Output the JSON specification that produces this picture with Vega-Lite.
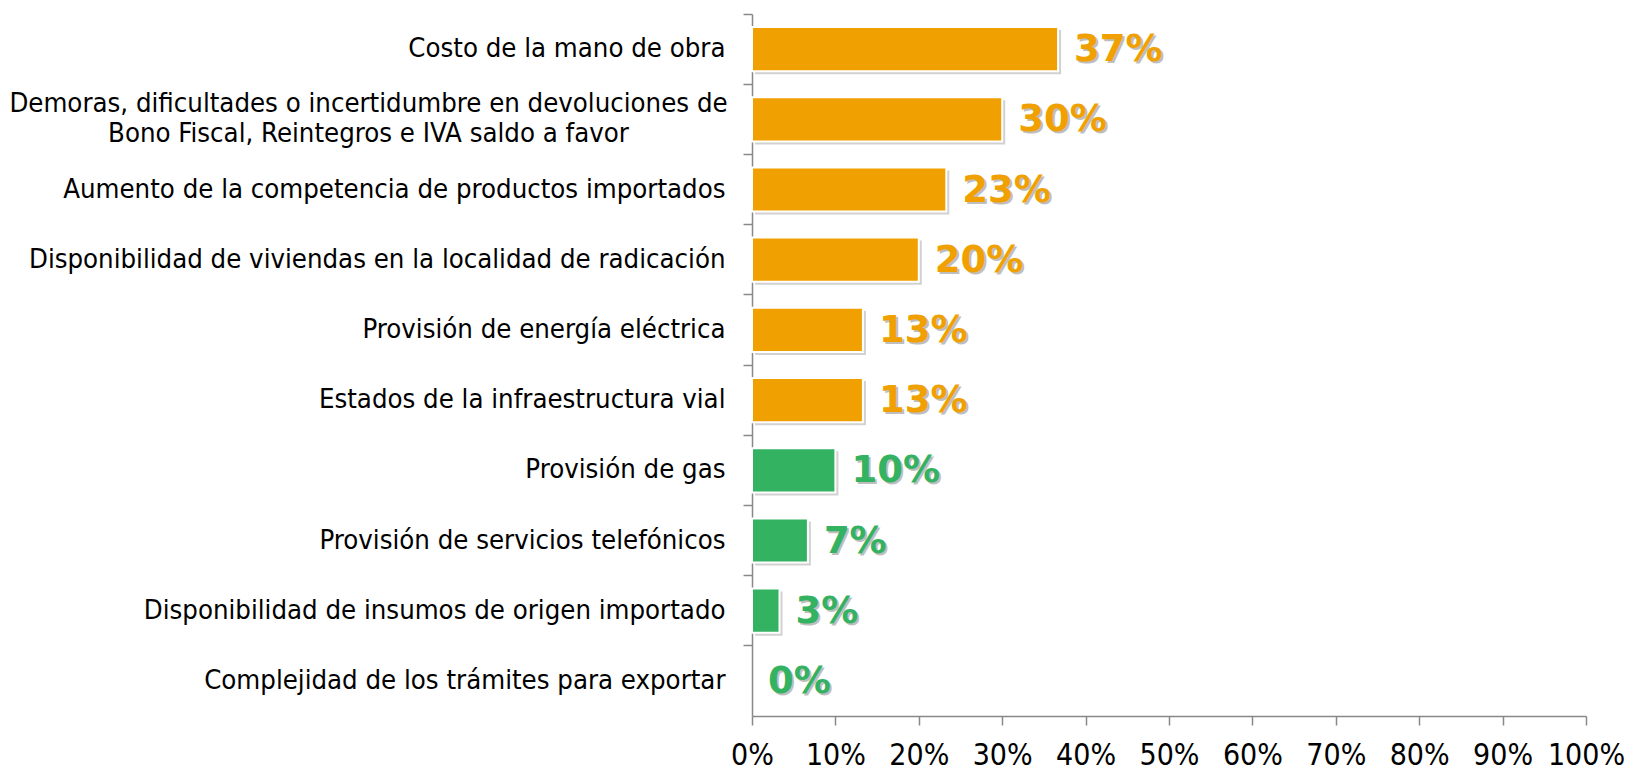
{
  "$schema": "https://vega.github.io/schema/vega-lite/v6.json",
  "width": 834,
  "height": 702,
  "autosize": {"type": "none"},
  "padding": {"left": 752, "top": 14, "right": 44, "bottom": 56},
  "background": "white",
  "config": {"view": {"stroke": null}, "font": "DejaVu Sans Condensed"},
  "data": {
    "values": [
      {"categoria": "Costo de la mano de obra", "valor": 0.367, "grupo": "alto"},
      {"categoria": "Demoras, dificultades o incertidumbre en devoluciones de Bono Fiscal, Reintegros e IVA saldo a favor", "valor": 0.30, "grupo": "alto"},
      {"categoria": "Aumento de la competencia de productos importados", "valor": 0.233, "grupo": "alto"},
      {"categoria": "Disponibilidad de viviendas en la localidad de radicación", "valor": 0.20, "grupo": "alto"},
      {"categoria": "Provisión de energía eléctrica", "valor": 0.133, "grupo": "alto"},
      {"categoria": "Estados de la infraestructura vial", "valor": 0.133, "grupo": "alto"},
      {"categoria": "Provisión de gas", "valor": 0.10, "grupo": "bajo"},
      {"categoria": "Provisión de servicios telefónicos", "valor": 0.067, "grupo": "bajo"},
      {"categoria": "Disponibilidad de insumos de origen importado", "valor": 0.033, "grupo": "bajo"},
      {"categoria": "Complejidad de los trámites para exportar", "valor": 0.0, "grupo": "bajo"}
    ]
  },
  "encoding": {
    "y": {
      "field": "categoria",
      "type": "nominal",
      "sort": null,
      "title": null,
      "scale": {"paddingInner": 0, "paddingOuter": 0},
      "axis": {
        "bandPosition": 0,
        "domainColor": "#888888",
        "tickColor": "#888888",
        "domainWidth": 1.5,
        "tickWidth": 1.5,
        "tickSize": 9,
        "labelFont": "DejaVu Sans Condensed",
        "labelFontSize": 27.3,
        "labelColor": "#000000",
        "labelLimit": 900,
        "labelLineHeight": 30,
        "labelAlign": {"condition": {"test": "indexof(datum.value, 'Demoras') == 0", "value": "center"}, "value": "right"},
        "labelPadding": {"condition": {"test": "indexof(datum.value, 'Demoras') == 0", "value": 375}, "value": 18},
        "labelOffset": {"condition": {"test": "indexof(datum.value, 'Demoras') == 0", "value": -15}, "value": 0},
        "labelExpr": "indexof(datum.value, 'Demoras') == 0 ? ['Demoras, dificultades o incertidumbre en devoluciones de', 'Bono Fiscal, Reintegros e IVA saldo a favor'] : datum.label"
      }
    },
    "x": {
      "field": "valor",
      "type": "quantitative",
      "title": null,
      "scale": {"domain": [0, 1], "nice": false},
      "axis": {
        "values": [0, 0.1, 0.2, 0.3, 0.4, 0.5, 0.6, 0.7, 0.8, 0.9, 1],
        "format": ".0%",
        "grid": false,
        "domainColor": "#888888",
        "tickColor": "#888888",
        "domainWidth": 1.5,
        "tickWidth": 1.5,
        "tickSize": 9,
        "labelFont": "DejaVu Sans Condensed",
        "labelFontSize": 30,
        "labelColor": "#000000",
        "labelPadding": 15,
        "labelFlush": false,
        "labelOverlap": false
      }
    }
  },
  "layer": [
    {
      "mark": {"type": "bar", "color": "#000000", "opacity": 0.18, "height": {"band": 0.63}, "xOffset": 3, "yOffset": 3},
      "transform": [{"filter": "datum.valor > 0"}]
    },
    {
      "mark": {"type": "bar", "stroke": "white", "strokeWidth": 2, "height": {"band": 0.63}},
      "transform": [{"filter": "datum.valor > 0"}],
      "encoding": {
        "color": {"field": "grupo", "type": "nominal", "legend": null, "scale": {"domain": ["alto", "bajo"], "range": ["#F0A000", "#33B262"]}}
      }
    },
    {
      "mark": {"type": "text", "align": "left", "baseline": "middle", "dx": 18, "dy": 3, "font": "DejaVu Sans", "fontWeight": "bold", "fontSize": 37, "color": "#000000", "opacity": 0.25},
      "encoding": {"text": {"field": "valor", "type": "quantitative", "format": ".0%"}}
    },
    {
      "mark": {"type": "text", "align": "left", "baseline": "middle", "dx": 16, "dy": 1, "font": "DejaVu Sans", "fontWeight": "bold", "fontSize": 37},
      "encoding": {
        "text": {"field": "valor", "type": "quantitative", "format": ".0%"},
        "color": {"field": "grupo", "type": "nominal", "legend": null, "scale": {"domain": ["alto", "bajo"], "range": ["#F0A000", "#33B262"]}}
      }
    }
  ]
}
